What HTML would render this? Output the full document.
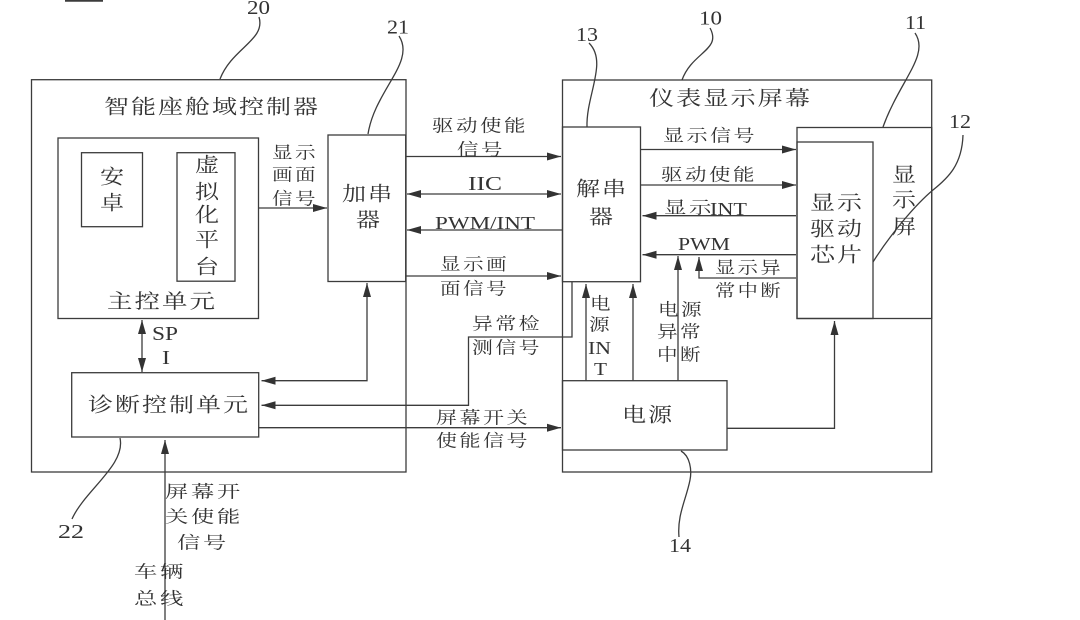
<!DOCTYPE html>
<html><head><meta charset="utf-8"><style>
html,body{margin:0;padding:0;background:#fff}
svg{display:block;filter:blur(.35px)}
text{font-family:"Noto Serif CJK SC","Liberation Serif",serif;fill:#333;text-anchor:start}
.b{font-size:20px;letter-spacing:1.6px}
.s{font-size:17px;letter-spacing:2px}
.n{font-family:"Liberation Serif",serif;font-size:20px}
.l{font-family:"Liberation Serif",serif;font-size:18px}
</style></head><body>
<svg width="1080" height="620" viewBox="0 0 1080 620" xmlns="http://www.w3.org/2000/svg">
<defs><marker id="a" markerWidth="15" markerHeight="9" refX="14" refY="4.5" orient="auto-start-reverse" markerUnits="userSpaceOnUse"><path d="M0,0.5L14,4.5L0,8.5z" fill="#333"/></marker></defs>
<g fill="none" stroke="#3c3c3c" stroke-width="1.3">
<path d="M65 0.5H103" stroke-width="2.4"/>
<rect x="31.5" y="79.7" width="374.5" height="392.3"/>
<rect x="58" y="138" width="200.5" height="180.5"/>
<rect x="81.5" y="152.7" width="61" height="74"/>
<rect x="177" y="152.7" width="58" height="128.5"/>
<rect x="328" y="135" width="77.7" height="146.5"/>
<rect x="71.7" y="372.7" width="187" height="64.3"/>
<rect x="562.5" y="80" width="369.2" height="392"/>
<rect x="562.5" y="127" width="78" height="154.7"/>
<rect x="797" y="127.5" width="134.7" height="191"/>
<rect x="797" y="142" width="76" height="176.5"/>
<rect x="562.5" y="380.7" width="164.5" height="69.3"/>
<path d="M259 208H327" marker-end="url(#a)"/>
<path d="M406 156.5H561" marker-end="url(#a)"/>
<path d="M407 194H561" marker-start="url(#a)" marker-end="url(#a)"/>
<path d="M562 230H407" marker-end="url(#a)"/>
<path d="M406 276H561" marker-end="url(#a)"/>
<path d="M641 149.5H796" marker-end="url(#a)"/>
<path d="M641 185H796" marker-end="url(#a)"/>
<path d="M796 215.7H642.5" marker-end="url(#a)"/>
<path d="M796 254.7H642.5" marker-end="url(#a)"/>
<path d="M796 278H699V257" marker-end="url(#a)"/>
<path d="M678 380.7V256" marker-end="url(#a)"/>
<path d="M586 380.7V284" marker-end="url(#a)"/>
<path d="M633 380.7V284" marker-end="url(#a)"/>
<path d="M142 320V372" marker-start="url(#a)" marker-end="url(#a)"/>
<path d="M367 283V380.7H261.5" marker-start="url(#a)" marker-end="url(#a)"/>
<path d="M572 282V337H468.5V405.3H261.5" marker-end="url(#a)"/>
<path d="M259 427.7H561" marker-end="url(#a)"/>
<path d="M727 428.3H834.5V321" marker-end="url(#a)"/>
<path d="M165 620V440" marker-end="url(#a)"/>
<path d="M259 17C266 40 232 48 220 79"/>
<path d="M399 36C416 62 375 90 368 134"/>
<path d="M589 43C608 62 586 95 587 127"/>
<path d="M710 28C722 50 692 52 682 80"/>
<path d="M915 33C930 55 900 80 883 127"/>
<path d="M963 135C962 165 948 178 933 190C915 205 890 235 873 262"/>
<path d="M120 438C126 465 85 490 72 519"/>
<path d="M681 451C690 456 692 470 690 480C686 500 677 515 679 537"/>
</g>
<text class="n" x="247" y="14" textLength="23" lengthAdjust="spacingAndGlyphs">20</text>
<text class="n" x="387" y="33.5" textLength="22" lengthAdjust="spacingAndGlyphs">21</text>
<text class="n" x="576" y="41" textLength="22" lengthAdjust="spacingAndGlyphs">13</text>
<text class="n" x="699" y="24.5" textLength="23" lengthAdjust="spacingAndGlyphs">10</text>
<text class="n" x="905" y="29" textLength="21" lengthAdjust="spacingAndGlyphs">11</text>
<text class="n" x="949" y="128" textLength="22" lengthAdjust="spacingAndGlyphs">12</text>
<text class="n" x="58" y="538" textLength="26" lengthAdjust="spacingAndGlyphs">22</text>
<text class="n" x="669" y="552" textLength="22" lengthAdjust="spacingAndGlyphs">14</text>

<text class="b" x="104" y="113.5" textLength="216" lengthAdjust="spacingAndGlyphs">智能座舱域控制器</text>
<text class="b" x="649" y="105" textLength="163" lengthAdjust="spacingAndGlyphs">仪表显示屏幕</text>
<text class="b" x="100" y="183.5" textLength="26" lengthAdjust="spacingAndGlyphs">安</text>
<text class="b" x="100" y="209.5" textLength="26" lengthAdjust="spacingAndGlyphs">卓</text>
<text class="b" x="195" y="171.5" textLength="26" lengthAdjust="spacingAndGlyphs">虚</text>
<text class="b" x="195" y="198.5" textLength="26" lengthAdjust="spacingAndGlyphs">拟</text>
<text class="b" x="195" y="221.5" textLength="26" lengthAdjust="spacingAndGlyphs">化</text>
<text class="b" x="195" y="246.5" textLength="26" lengthAdjust="spacingAndGlyphs">平</text>
<text class="b" x="195" y="273.5" textLength="26" lengthAdjust="spacingAndGlyphs">台</text>
<text class="b" x="107" y="308" textLength="110" lengthAdjust="spacingAndGlyphs">主控单元</text>
<text class="s" x="272" y="158.5" textLength="46" lengthAdjust="spacingAndGlyphs">显示</text>
<text class="s" x="272" y="180.5" textLength="46" lengthAdjust="spacingAndGlyphs">画面</text>
<text class="s" x="272" y="204.5" textLength="46" lengthAdjust="spacingAndGlyphs">信号</text>
<text class="b" x="342" y="200.5" textLength="52" lengthAdjust="spacingAndGlyphs">加串</text>
<text class="b" x="356" y="226.5" textLength="26" lengthAdjust="spacingAndGlyphs">器</text>
<text class="s" x="432" y="131.5" textLength="96" lengthAdjust="spacingAndGlyphs">驱动使能</text>
<text class="s" x="457" y="155.5" textLength="48" lengthAdjust="spacingAndGlyphs">信号</text>
<text class="n" x="468" y="190" textLength="34" lengthAdjust="spacingAndGlyphs">IIC</text>
<text class="l" x="435" y="229" textLength="100" lengthAdjust="spacingAndGlyphs">PWM/INT</text>
<text class="s" x="440" y="270" textLength="69" lengthAdjust="spacingAndGlyphs">显示画</text>
<text class="s" x="440" y="294.5" textLength="69" lengthAdjust="spacingAndGlyphs">面信号</text>
<text class="b" x="576" y="195.5" textLength="52" lengthAdjust="spacingAndGlyphs">解串</text>
<text class="b" x="589" y="223.5" textLength="26" lengthAdjust="spacingAndGlyphs">器</text>
<text class="s" x="663" y="141.5" textLength="94" lengthAdjust="spacingAndGlyphs">显示信号</text>
<text class="s" x="661" y="180.5" textLength="96" lengthAdjust="spacingAndGlyphs">驱动使能</text>
<text class="s" x="664" y="213.5" textLength="50" lengthAdjust="spacingAndGlyphs">显示</text>
<text class="l" x="710" y="215" textLength="37" lengthAdjust="spacingAndGlyphs">INT</text>
<text class="l" x="678" y="250" textLength="52" lengthAdjust="spacingAndGlyphs">PWM</text>
<text class="s" x="715" y="273.5" textLength="68" lengthAdjust="spacingAndGlyphs">显示异</text>
<text class="s" x="715" y="296.5" textLength="68" lengthAdjust="spacingAndGlyphs">常中断</text>
<text class="b" x="810" y="209.5" textLength="54" lengthAdjust="spacingAndGlyphs">显示</text>
<text class="b" x="810" y="235.5" textLength="54" lengthAdjust="spacingAndGlyphs">驱动</text>
<text class="b" x="810" y="261.5" textLength="54" lengthAdjust="spacingAndGlyphs">芯片</text>
<text class="b" x="892" y="181.5" textLength="26" lengthAdjust="spacingAndGlyphs">显</text>
<text class="b" x="892" y="206.5" textLength="26" lengthAdjust="spacingAndGlyphs">示</text>
<text class="b" x="892" y="233.5" textLength="26" lengthAdjust="spacingAndGlyphs">屏</text>
<text class="n" x="152" y="340" textLength="26" lengthAdjust="spacingAndGlyphs">SP</text>
<text class="n" x="162" y="364" textLength="8" lengthAdjust="spacingAndGlyphs">I</text>
<text class="b" x="88" y="411.5" textLength="162" lengthAdjust="spacingAndGlyphs">诊断控制单元</text>
<text class="s" x="472" y="329.5" textLength="70" lengthAdjust="spacingAndGlyphs">异常检</text>
<text class="s" x="472" y="353.5" textLength="70" lengthAdjust="spacingAndGlyphs">测信号</text>
<text class="s" x="590" y="309.5" textLength="23" lengthAdjust="spacingAndGlyphs">电</text>
<text class="s" x="589" y="330.5" textLength="23" lengthAdjust="spacingAndGlyphs">源</text>
<text class="l" x="588" y="354" textLength="23" lengthAdjust="spacingAndGlyphs">IN</text>
<text class="l" x="594" y="375" textLength="13" lengthAdjust="spacingAndGlyphs">T</text>
<text class="s" x="658" y="315.5" textLength="46" lengthAdjust="spacingAndGlyphs">电源</text>
<text class="s" x="657" y="337.5" textLength="46" lengthAdjust="spacingAndGlyphs">异常</text>
<text class="s" x="657" y="360.5" textLength="46" lengthAdjust="spacingAndGlyphs">中断</text>
<text class="s" x="436" y="423.5" textLength="94" lengthAdjust="spacingAndGlyphs">屏幕开关</text>
<text class="s" x="436" y="446.5" textLength="94" lengthAdjust="spacingAndGlyphs">使能信号</text>
<text class="b" x="622" y="421.5" textLength="52" lengthAdjust="spacingAndGlyphs">电源</text>
<text class="s" x="165" y="497.5" textLength="78" lengthAdjust="spacingAndGlyphs">屏幕开</text>
<text class="s" x="165" y="522.5" textLength="78" lengthAdjust="spacingAndGlyphs">关使能</text>
<text class="s" x="177" y="548.5" textLength="52" lengthAdjust="spacingAndGlyphs">信号</text>
<text class="s" x="134" y="577.5" textLength="52" lengthAdjust="spacingAndGlyphs">车辆</text>
<text class="s" x="134" y="604.5" textLength="52" lengthAdjust="spacingAndGlyphs">总线</text>
</svg>
</body></html>
